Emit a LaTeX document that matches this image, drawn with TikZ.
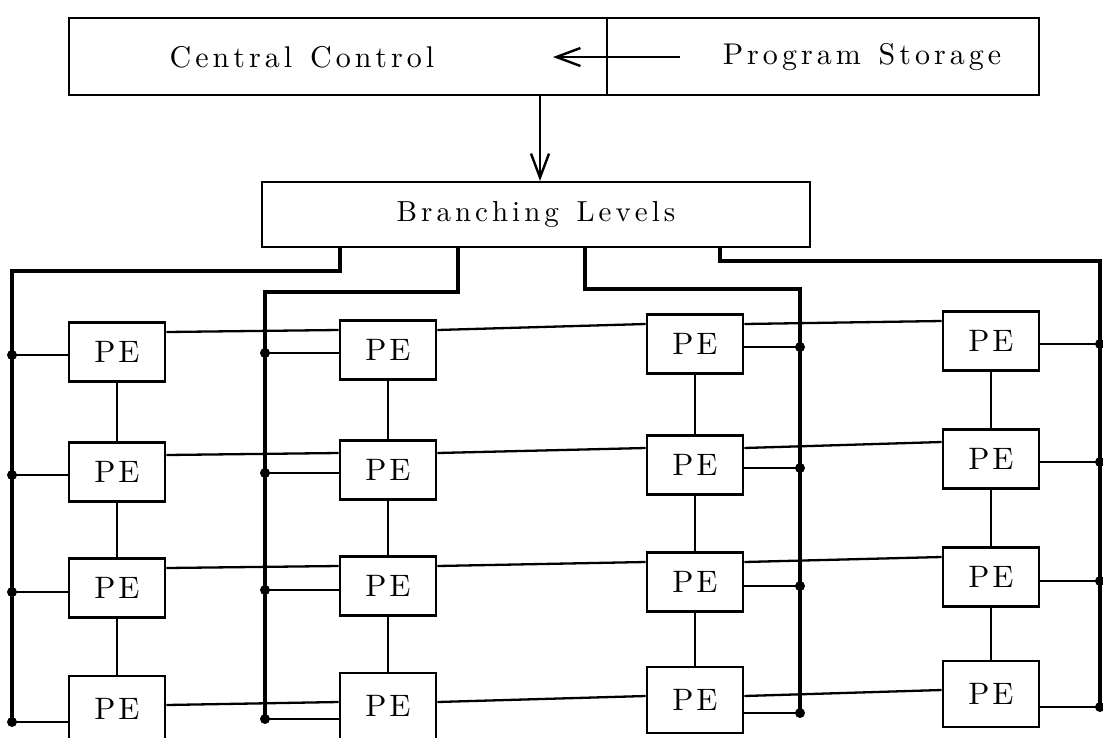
\documentclass[tikz,border=0pt]{standalone}
\usepackage{fontspec}
\newfontfamily\lbfont{lmroman10-regular.otf}
\usetikzlibrary{arrows.meta}
% open letter spacing for the labels
\def\spgapval{4pt}
\def\spaced#1{\SpFirst#1\relax}
\def\SpFirst#1{#1\SpRest}
\def\SpRest#1{\ifx#1\relax\else\kern\spgapval\relax#1\expandafter\SpRest\fi}
\def\spgap{\kern\spgapval\relax\ \kern\spgapval\relax}
\begin{document}
\begin{tikzpicture}[x=1pt,y=-1pt,
  txt/.style={font=\lbfont\fontsize{30}{32}\selectfont\def\spgapval{4pt}},
  blk/.style={draw, line width=2pt, inner sep=0pt},
  pe/.style={draw, line width=2.6pt, inner sep=0pt, minimum width=96pt, minimum height=59pt,
    font=\lbfont\fontsize{31}{32}\selectfont\def\spgapval{3pt}},
  tall/.style={minimum height=66pt},
  wire/.style={line width=2.3pt},
  bus/.style={line width=3.4pt},
  flow/.style={line width=2.2pt, -{Straight Barb[length=24pt,width=18pt,line width=2.4pt]}},
  jn/.style={circle, fill, inner sep=0pt, minimum size=10pt},
]
\useasboundingbox (0,0) rectangle (1103,737);
\fill[white] (0,0) rectangle (1103,737);
\clip (0,0) rectangle (1103,737);

% control unit and program store
\node[blk, minimum width=538pt, minimum height=77pt] (cc) at (338,56) {};
\node[blk, minimum width=432pt, minimum height=77pt] (ps) at (823,56) {};
\node[txt] (cct) at (302,57) {\spaced{Central}\spgap\spaced{Control}};
\node[txt] (pst) at (862,57) {\spaced{Program}\spgap\spaced{Storage}};
\coordinate (src) at (680,57);
\coordinate (dst) at (553,57);
\draw[flow] (src) -- (dst);

% branching levels
\node[blk, txt, font=\lbfont\fontsize{29}{30}\selectfont, minimum width=548pt, minimum height=65pt]
  (bl) at (536,214.5) {\spaced{Branching}\spgap\spaced{Levels}};
\coordinate (dn) at (540,0);
\draw[flow] (dn |- cc.south) -- (dn |- bl.north);

% processing elements, one column at a time
\foreach \c/\x/\ya/\yb/\yc/\yd in {1/117/352/472/588/709, 2/388/350/470/586/706,
                                    3/695/344/465/582/700, 4/991/341/459/577/694} {
  \node[pe] (p\c1) at (\x,\ya) {\spaced{PE}};
  \node[pe] (p\c2) at (\x,\yb) {\spaced{PE}};
  \node[pe] (p\c3) at (\x,\yc) {\spaced{PE}};
  \node[pe,tall] (p\c4) at (\x,\yd) {\spaced{PE}};
  \draw[wire] (p\c1) -- (p\c2) (p\c2) -- (p\c3) (p\c3) -- (p\c4);
}

% row links between neighbours and tap points for the buses
\foreach \r/\hi/\lo in {1/20/-3, 2/17/-3, 3/20/-4, 4/4/-13} {
  \draw[wire] ([yshift=\hi pt]p1\r.east) -- ([yshift=\hi pt]p2\r.west)
              ([yshift=\hi pt]p2\r.east) -- ([yshift=\hi pt]p3\r.west)
              ([yshift=\hi pt]p3\r.east) -- ([yshift=\hi pt]p4\r.west);
  \coordinate (a\r) at ([yshift=\lo pt]p1\r.west);
  \coordinate (b\r) at ([yshift=\lo pt]p2\r.west);
  \coordinate (c\r) at ([yshift=\lo pt]p3\r.east);
  \coordinate (e\r) at ([yshift=\lo pt]p4\r.east);
}

% buses from the branching levels
\coordinate (xA) at (12,271);
\coordinate (xB) at (265,292);
\coordinate (xC) at (800,289);
\coordinate (xD) at (1100,261);
\coordinate (tA) at (340,0);
\coordinate (tB) at (458,0);
\coordinate (tC) at (585,0);
\coordinate (tD) at (720,0);
\draw[bus] (tA |- bl.south) |- (xA) -- (a4 -| xA);
\draw[bus] (tB |- bl.south) |- (xB) -- (b4 -| xB);
\draw[bus] (tC |- bl.south) |- (xC) -- (c4 -| xC);
\draw[bus] (tD |- bl.south) |- (xD) -- (e4 -| xD);

\foreach \r in {1,2,3,4} {
  \draw[wire] (a\r) -- (a\r -| xA) node[jn] (ja\r) {};
  \draw[wire] (b\r) -- (b\r -| xB) node[jn] (jb\r) {};
  \draw[wire] (c\r) -- (c\r -| xC) node[jn] (jc\r) {};
  \draw[wire] (e\r) -- (e\r -| xD) node[jn] (je\r) {};
}
\end{tikzpicture}
\end{document}
